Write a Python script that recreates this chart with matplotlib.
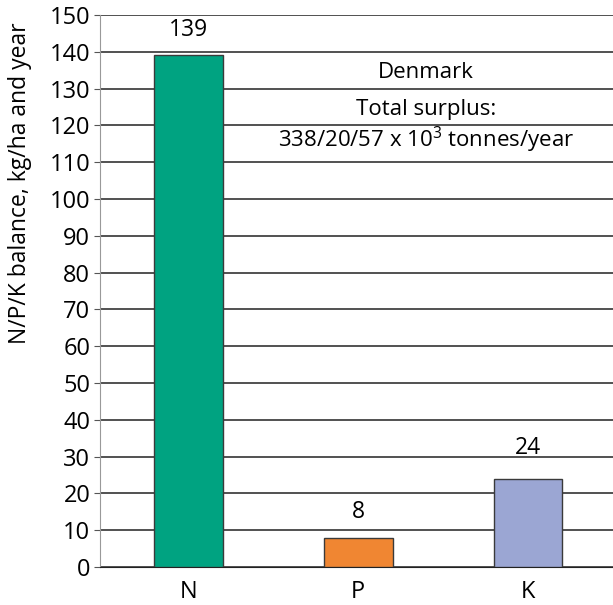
import matplotlib
matplotlib.use("Agg")
import matplotlib.pyplot as plt

categories = ["N", "P", "K"]
values = [139, 8, 24]
label_y = [144.3, 13.3, 30.7]
colors = ["#00a381", "#f08632", "#9ba6d3"]
yticks = list(range(0, 151, 10))
note = ["Denmark", "Total surplus:", "338/20/57 x 10$^3$ tonnes/year"]
note_y = [132.9, 122.8, 114.1]

plt.rcParams["font.family"] = ["Open Sans", "DejaVu Sans"]
plt.rcParams["mathtext.default"] = "regular"

fig = plt.figure(figsize=(6.13, 6.05), dpi=100)
ax = fig.add_axes([100 / 613, 38 / 605, 513 / 613, 552 / 605])

x = list(range(len(categories)))
ax.bar(x, values, width=0.405, color=colors, edgecolor="#3a3a3a", linewidth=1.0, zorder=3)
for xi, v, ly in zip(x, values, label_y):
    ax.text(xi, ly, str(v), ha="center", va="baseline", fontsize=16.5)

ax.set_ylim(0, 150)
ax.set_xlim(-0.52, 2.5)
ax.set_yticks(yticks)
ax.yaxis.grid(True, color="#222222", linewidth=1.1, zorder=0)
ax.set_axisbelow(True)
ax.set_xticks(x)
ax.set_xticklabels(categories, fontsize=17)
ax.tick_params(axis="x", length=0, pad=9)
ax.tick_params(axis="y", labelsize=17, length=4, color="#555555", pad=3)

fig.text(20 / 613, 1 - 183 / 605, "N/P/K balance, kg/ha and year", rotation=90,
         ha="center", va="center", fontsize=16.5)

for s in ("top", "right"):
    ax.spines[s].set_visible(False)
ax.spines["left"].set_color("#999999")
ax.spines["bottom"].set_color("#222222")

for t, yv in zip(note, note_y):
    ax.text(1.4, yv, t, ha="center", va="baseline", fontsize=16)

fig.savefig("out.png", dpi=100)
